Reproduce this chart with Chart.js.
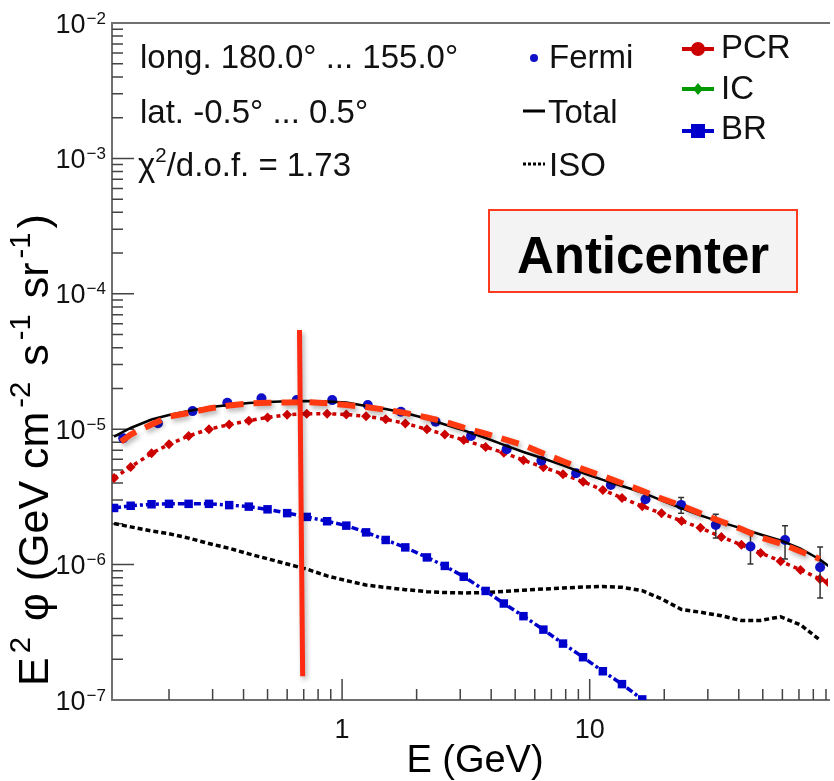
<!DOCTYPE html>
<html>
<head>
<meta charset="utf-8">
<script src="https://cdn.jsdelivr.net/npm/chart.js@4.4.1/dist/chart.umd.min.js"></script>
<style>
  body { margin: 0; background: #fff; }
  canvas { display: block; }
</style>
</head>
<body>
<canvas id="myChart" width="834" height="781"></canvas>
<script>
// model energy grid (GeV)
const energy = [0.12, 0.14, 0.17, 0.2, 0.24, 0.29, 0.35, 0.42, 0.5, 0.6, 0.72, 0.87, 1.04, 1.25, 1.5, 1.8,
  2.2, 2.6, 3.1, 3.8, 4.5, 5.4, 6.5, 7.8, 9.4, 11.3, 13.5, 16.3, 19.5, 23.5, 28, 34, 41, 49, 59, 71, 85, 92];

const totalFlux = [8.83e-6, 1.021e-5, 1.179e-5, 1.273e-5, 1.363e-5, 1.451e-5, 1.509e-5, 1.561e-5, 1.588e-5,
  1.607e-5, 1.615e-5, 1.601e-5, 1.574e-5, 1.483e-5, 1.409e-5, 1.317e-5, 1.193e-5, 1.083e-5, 9.81e-6, 8.61e-6,
  7.67e-6, 6.79e-6, 6.08e-6, 5.40e-6, 4.75e-6, 4.22e-6, 3.81e-6, 3.41e-6, 2.98e-6, 2.60e-6, 2.31e-6, 2.05e-6,
  1.85e-6, 1.67e-6, 1.51e-6, 1.31e-6, 1.09e-6, 9.78e-7];

const pcrFlux = [4.36e-6, 5.26e-6, 6.63e-6, 7.74e-6, 8.91e-6, 1.0e-5, 1.081e-5, 1.155e-5, 1.222e-5, 1.277e-5,
  1.301e-5, 1.303e-5, 1.283e-5, 1.245e-5, 1.183e-5, 1.104e-5, 9.98e-6, 9.15e-6, 8.32e-6, 7.39e-6, 6.70e-6,
  5.90e-6, 5.24e-6, 4.65e-6, 4.09e-6, 3.56e-6, 3.11e-6, 2.70e-6, 2.39e-6, 2.10e-6, 1.87e-6, 1.60e-6, 1.40e-6,
  1.22e-6, 1.06e-6, 9.14e-7, 7.84e-7, 7.39e-7];

const brFlux = [2.62e-6, 2.72e-6, 2.79e-6, 2.81e-6, 2.81e-6, 2.81e-6, 2.75e-6, 2.68e-6, 2.56e-6, 2.40e-6,
  2.25e-6, 2.09e-6, 1.94e-6, 1.73e-6, 1.52e-6, 1.34e-6, 1.13e-6, 9.78e-7, 8.14e-7, 6.39e-7, 5.16e-7, 4.16e-7,
  3.31e-7, 2.61e-7, 2.07e-7, 1.63e-7, 1.31e-7, 1.01e-7];

const isoFlux = [2.01e-6, 1.90e-6, 1.77e-6, 1.69e-6, 1.57e-6, 1.43e-6, 1.32e-6, 1.20e-6, 1.105e-6, 1.01e-6,
  9.26e-7, 8.25e-7, 7.62e-7, 7.06e-7, 6.78e-7, 6.53e-7, 6.31e-7, 6.22e-7, 6.17e-7, 6.22e-7, 6.34e-7, 6.47e-7,
  6.60e-7, 6.71e-7, 6.83e-7, 6.89e-7, 6.79e-7, 6.42e-7, 5.58e-7, 4.66e-7, 4.45e-7, 4.19e-7, 3.86e-7, 3.87e-7,
  4.12e-7, 3.59e-7, 2.78e-7];

// hand drawn dashed fit line
const fitE = [0.128, 0.14, 0.17, 0.2, 0.24, 0.29, 0.35, 0.42, 0.5, 0.6, 0.72, 0.87, 1.04, 1.25, 1.5, 1.8,
  2.2, 2.6, 3.1, 3.8, 4.5, 5.4, 6.5, 7.8, 9.4, 11.3, 13.5, 16.3, 19.5, 23.5, 28, 34, 41, 49, 59, 71, 85];
const fitFlux = [8.09e-6, 9.14e-6, 1.083e-5, 1.241e-5, 1.317e-5, 1.421e-5, 1.496e-5, 1.553e-5, 1.569e-5,
  1.574e-5, 1.588e-5, 1.553e-5, 1.509e-5, 1.458e-5, 1.393e-5, 1.319e-5, 1.220e-5, 1.134e-5, 1.029e-5, 9.28e-6,
  8.44e-6, 7.64e-6, 6.62e-6, 5.80e-6, 5.07e-6, 4.51e-6, 3.99e-6, 3.51e-6, 3.07e-6, 2.73e-6, 2.39e-6, 2.08e-6,
  1.83e-6, 1.585e-6, 1.43e-6, 1.25e-6, 1.10e-6];

// Fermi data points
const fermiE = [0.1306, 0.1805, 0.249, 0.344, 0.4725, 0.656, 0.912, 1.27, 1.728, 2.387, 3.317, 4.62, 6.38,
  8.81, 12.17, 16.8, 23.4, 32.3, 44.6, 61.5, 85.2];
const fermiFlux = [8.57e-6, 1.105e-5, 1.36e-5, 1.57e-5, 1.69e-5, 1.64e-5, 1.64e-5, 1.51e-5, 1.346e-5,
  1.136e-5, 8.91e-6, 7.11e-6, 5.85e-6, 4.73e-6, 3.87e-6, 3.04e-6, 2.76e-6, 1.96e-6, 1.36e-6, 1.52e-6, 9.57e-7];
const fermiErr = [1e-7, 1.5e-7, 1.5e-7, 1.5e-7, 1.5e-7, 1.5e-7, 1.5e-7, 1.5e-7, 1.5e-7, 1.2e-7, 1e-7, 1e-7,
  1e-7, 1e-7, 1.2e-7, 1.8e-7, 3.7e-7, 3.9e-7, 3.5e-7, 4.2e-7, 3.9e-7];

// red vertical marker line
const cutE = [0.673, 0.693];
const cutFlux = [5.4e-5, 1.5e-7];

const xTicks = [1, 10];
const xTickLabels = ['1', '10'];
const yTicks = [1e-7, 1e-6, 1e-5, 1e-4, 1e-3, 1e-2];
const yTickExp = ['\u22127', '\u22126', '\u22125', '\u22124', '\u22123', '\u22122'];

const FONT = '"Liberation Sans", Arial, Helvetica, sans-serif';

const pts = (xs, ys) => ys.map((v, i) => ({ x: xs[i], y: v }));

// draw text runs, some as superscripts
function drawRuns(ctx, x, y, runs, size, supScale = 0.62, gap = 0) {
  let cx = x;
  runs.forEach(([t, sup]) => {
    const s = sup ? size * supScale : size;
    ctx.font = s + 'px ' + FONT;
    ctx.fillText(t, cx, sup ? y - size * 0.42 : y);
    cx += ctx.measureText(t).width + gap;
  });
  return cx - x;
}

const axesPlugin = {
  id: 'axes',
  beforeDatasetsDraw(chart) {
    const { ctx, chartArea: a, scales: { x, y } } = chart;
    ctx.save();
    ctx.strokeStyle = '#707070';
    ctx.lineWidth = 2;
    ctx.beginPath();
    ctx.moveTo(a.right + 2, a.top);
    ctx.lineTo(a.left, a.top);
    ctx.lineTo(a.left, a.bottom);
    ctx.lineTo(a.right + 2, a.bottom);
    ctx.stroke();

    ctx.lineWidth = 1.5;
    ctx.strokeStyle = '#444';
    ctx.beginPath();
    // y ticks
    for (let d = -7; d <= -3; d++) {
      for (let k = 1; k <= 9; k++) {
        const py = y.getPixelForValue(k * Math.pow(10, d));
        const len = k === 1 ? 22 : 11;
        if (k === 1 && d === -7) continue;
        ctx.moveTo(a.left, py);
        ctx.lineTo(a.left + len, py);
      }
    }
    // x ticks
    for (let d = -1; d <= 1; d++) {
      for (let k = 1; k <= 9; k++) {
        const v = k * Math.pow(10, d);
        if (v < x.min || v > x.max) continue;
        const px = x.getPixelForValue(v);
        const len = k === 1 ? 21 : 11;
        ctx.moveTo(px, a.bottom);
        ctx.lineTo(px, a.bottom - len);
      }
    }
    ctx.stroke();

    // tick labels
    ctx.fillStyle = '#111';
    ctx.textBaseline = 'alphabetic';
    yTicks.forEach((v, i) => {
      const py = y.getPixelForValue(v);
      ctx.font = '17px ' + FONT;
      const sw = ctx.measureText(yTickExp[i]).width;
      ctx.textAlign = 'right';
      ctx.fillText(yTickExp[i], 106, py + 0.5);
      ctx.font = '27px ' + FONT;
      ctx.fillText('10', 105 - sw, py + 9.5);
    });
    ctx.textAlign = 'center';
    ctx.font = '27px ' + FONT;
    xTicks.forEach((v, i) => {
      ctx.fillText(xTickLabels[i], x.getPixelForValue(v), 738);
    });
    ctx.restore();
  }
};

const shadowPlugin = {
  id: 'shadow',
  beforeDatasetDraw(chart, args) {
    const ds = chart.data.datasets[args.index];
    if (ds.label === 'fit' || ds.label === 'cut') {
      const ctx = chart.ctx;
      ctx.save();
      ctx.shadowColor = 'rgba(0,0,0,0.3)';
      ctx.shadowBlur = 5;
      ctx.shadowOffsetX = 2;
      ctx.shadowOffsetY = 3;
    }
    if (ds.label === 'Fermi') {
      // error bars
      const { ctx, scales: { x, y } } = chart;
      ctx.save();
      ctx.strokeStyle = '#333';
      ctx.lineWidth = 1.5;
      ctx.beginPath();
      fermiE.forEach((e, i) => {
        const px = x.getPixelForValue(e);
        const top = y.getPixelForValue(fermiFlux[i] + fermiErr[i]);
        const bot = y.getPixelForValue(fermiFlux[i] - fermiErr[i]);
        ctx.moveTo(px, top); ctx.lineTo(px, bot);
        if (bot - top > 12) {
          ctx.moveTo(px - 3, top); ctx.lineTo(px + 3, top);
          ctx.moveTo(px - 3, bot); ctx.lineTo(px + 3, bot);
        }
      });
      ctx.stroke();
      ctx.restore();
    }
  },
  afterDatasetDraw(chart, args) {
    const ds = chart.data.datasets[args.index];
    if (ds.label === 'fit' || ds.label === 'cut') chart.ctx.restore();
  }
};

const textPlugin = {
  id: 'texts',
  afterDraw(chart) {
    const ctx = chart.ctx;
    ctx.save();
    ctx.fillStyle = '#111';
    ctx.textAlign = 'left';
    ctx.textBaseline = 'alphabetic';

    // region info
    drawRuns(ctx, 140, 68, [['long. 180.0\u00b0 ... 155.0\u00b0']], 33);
    drawRuns(ctx, 140, 123, [['lat. -0.5\u00b0 ... 0.5\u00b0']], 33);
    drawRuns(ctx, 138, 176, [['\u03c7'], ['2', true], ['/d.o.f. = 1.73']], 33);

    // legend, left column
    ctx.fillStyle = '#1010c8';
    ctx.beginPath(); ctx.arc(534, 58, 4, 0, Math.PI * 2); ctx.fill();
    ctx.strokeStyle = '#000';
    ctx.lineWidth = 3;
    ctx.beginPath(); ctx.moveTo(523, 111); ctx.lineTo(545, 111); ctx.stroke();
    ctx.setLineDash([3, 2]);
    ctx.beginPath(); ctx.moveTo(523, 164); ctx.lineTo(545, 164); ctx.stroke();
    ctx.setLineDash([]);
    ctx.fillStyle = '#111';
    ctx.font = '33px ' + FONT;
    ctx.fillText('Fermi', 549, 68);
    ctx.fillText('Total', 548, 123);
    ctx.fillText('ISO', 549, 176);

    // legend, right column
    ctx.lineWidth = 4;
    ctx.strokeStyle = '#cc0000';
    ctx.beginPath(); ctx.moveTo(682, 49); ctx.lineTo(714, 49); ctx.stroke();
    ctx.fillStyle = '#cc0000';
    ctx.beginPath(); ctx.arc(698, 49, 7, 0, Math.PI * 2); ctx.fill();

    ctx.strokeStyle = '#009900';
    ctx.beginPath(); ctx.moveTo(682, 89); ctx.lineTo(714, 89); ctx.stroke();
    ctx.fillStyle = '#009900';
    ctx.beginPath();
    ctx.moveTo(698, 83); ctx.lineTo(703, 89); ctx.lineTo(698, 95); ctx.lineTo(693, 89); ctx.closePath();
    ctx.fill();

    ctx.strokeStyle = '#0000cc';
    ctx.beginPath(); ctx.moveTo(682, 131); ctx.lineTo(714, 131); ctx.stroke();
    ctx.fillStyle = '#0000cc';
    ctx.fillRect(691, 124, 14, 14);

    ctx.fillStyle = '#111';
    ctx.font = '33px ' + FONT;
    ctx.fillText('PCR', 721, 58);
    ctx.fillText('IC', 721, 99);
    ctx.fillText('BR', 721, 139);

    // region label box
    ctx.fillStyle = '#f3f3f3';
    ctx.fillRect(489, 210, 308, 82);
    ctx.strokeStyle = '#ff3b1f';
    ctx.lineWidth = 2;
    ctx.strokeRect(489, 210, 308, 82);
    ctx.fillStyle = '#000';
    ctx.textAlign = 'center';
    ctx.font = 'bold 51px ' + FONT;
    ctx.fillText('Anticenter', 643, 273);

    // x title
    ctx.font = '38px ' + FONT;
    ctx.fillText('E (GeV)', 475, 772);

    // y title
    ctx.textAlign = 'left';
    ctx.translate(48, 686);
    ctx.rotate(-Math.PI / 2);
    drawRuns(ctx, 0, 0, [['E'], ['2', true], [' \u03c6 (GeV cm'], ['-2', true], [' s'], ['-1', true],
      [' sr'], ['-1', true], [')']], 43, 0.68, 4);
    ctx.restore();
  }
};

const ctx = document.getElementById('myChart');
new Chart(ctx, {
  type: 'line',
  data: {
    datasets: [
      { label: 'cut', data: pts(cutE, cutFlux), borderColor: '#ff2a12', borderWidth: 5,
        pointRadius: 0, order: 0 },
      { label: 'fit', data: pts(fitE, fitFlux), borderColor: '#ff3a10', borderWidth: 6,
        borderDash: [18, 10], pointRadius: 0, order: 0 },
      { label: 'Total', data: pts(energy, totalFlux), borderColor: '#000', borderWidth: 2.5,
        pointRadius: 0, order: 1 },
      { label: 'Fermi', data: pts(fermiE, fermiFlux), showLine: false, pointRadius: 5,
        pointBackgroundColor: '#1010c8', pointBorderWidth: 0, order: 2 },
      { label: 'PCR', data: pts(energy, pcrFlux), borderColor: '#cc0000', borderWidth: 3.5,
        borderDash: [4, 4], pointStyle: 'rectRot', pointRadius: 5, pointBackgroundColor: '#cc0000',
        pointBorderWidth: 0, order: 3 },
      { label: 'BR', data: pts(energy, brFlux), borderColor: '#0000cc', borderWidth: 3.5,
        borderDash: [7, 3, 3, 3], pointStyle: 'rect', pointRadius: 6, pointBackgroundColor: '#0000cc',
        pointBorderWidth: 0, order: 3 },
      { label: 'ISO', data: pts(energy, isoFlux), borderColor: '#000', borderWidth: 3.5,
        borderDash: [5, 3], pointRadius: 0, order: 3 }
    ]
  },
  options: {
    responsive: false,
    animation: false,
    layout: { padding: { left: 112, top: 23, right: 0, bottom: 81 } },
    plugins: { legend: { display: false }, tooltip: { enabled: false } },
    scales: {
      x: { type: 'logarithmic', min: 0.1177, max: 91.7, display: false },
      y: { type: 'logarithmic', min: 1e-7, max: 1e-2, display: false }
    }
  },
  plugins: [axesPlugin, shadowPlugin, textPlugin]
});
</script>
</body>
</html>
